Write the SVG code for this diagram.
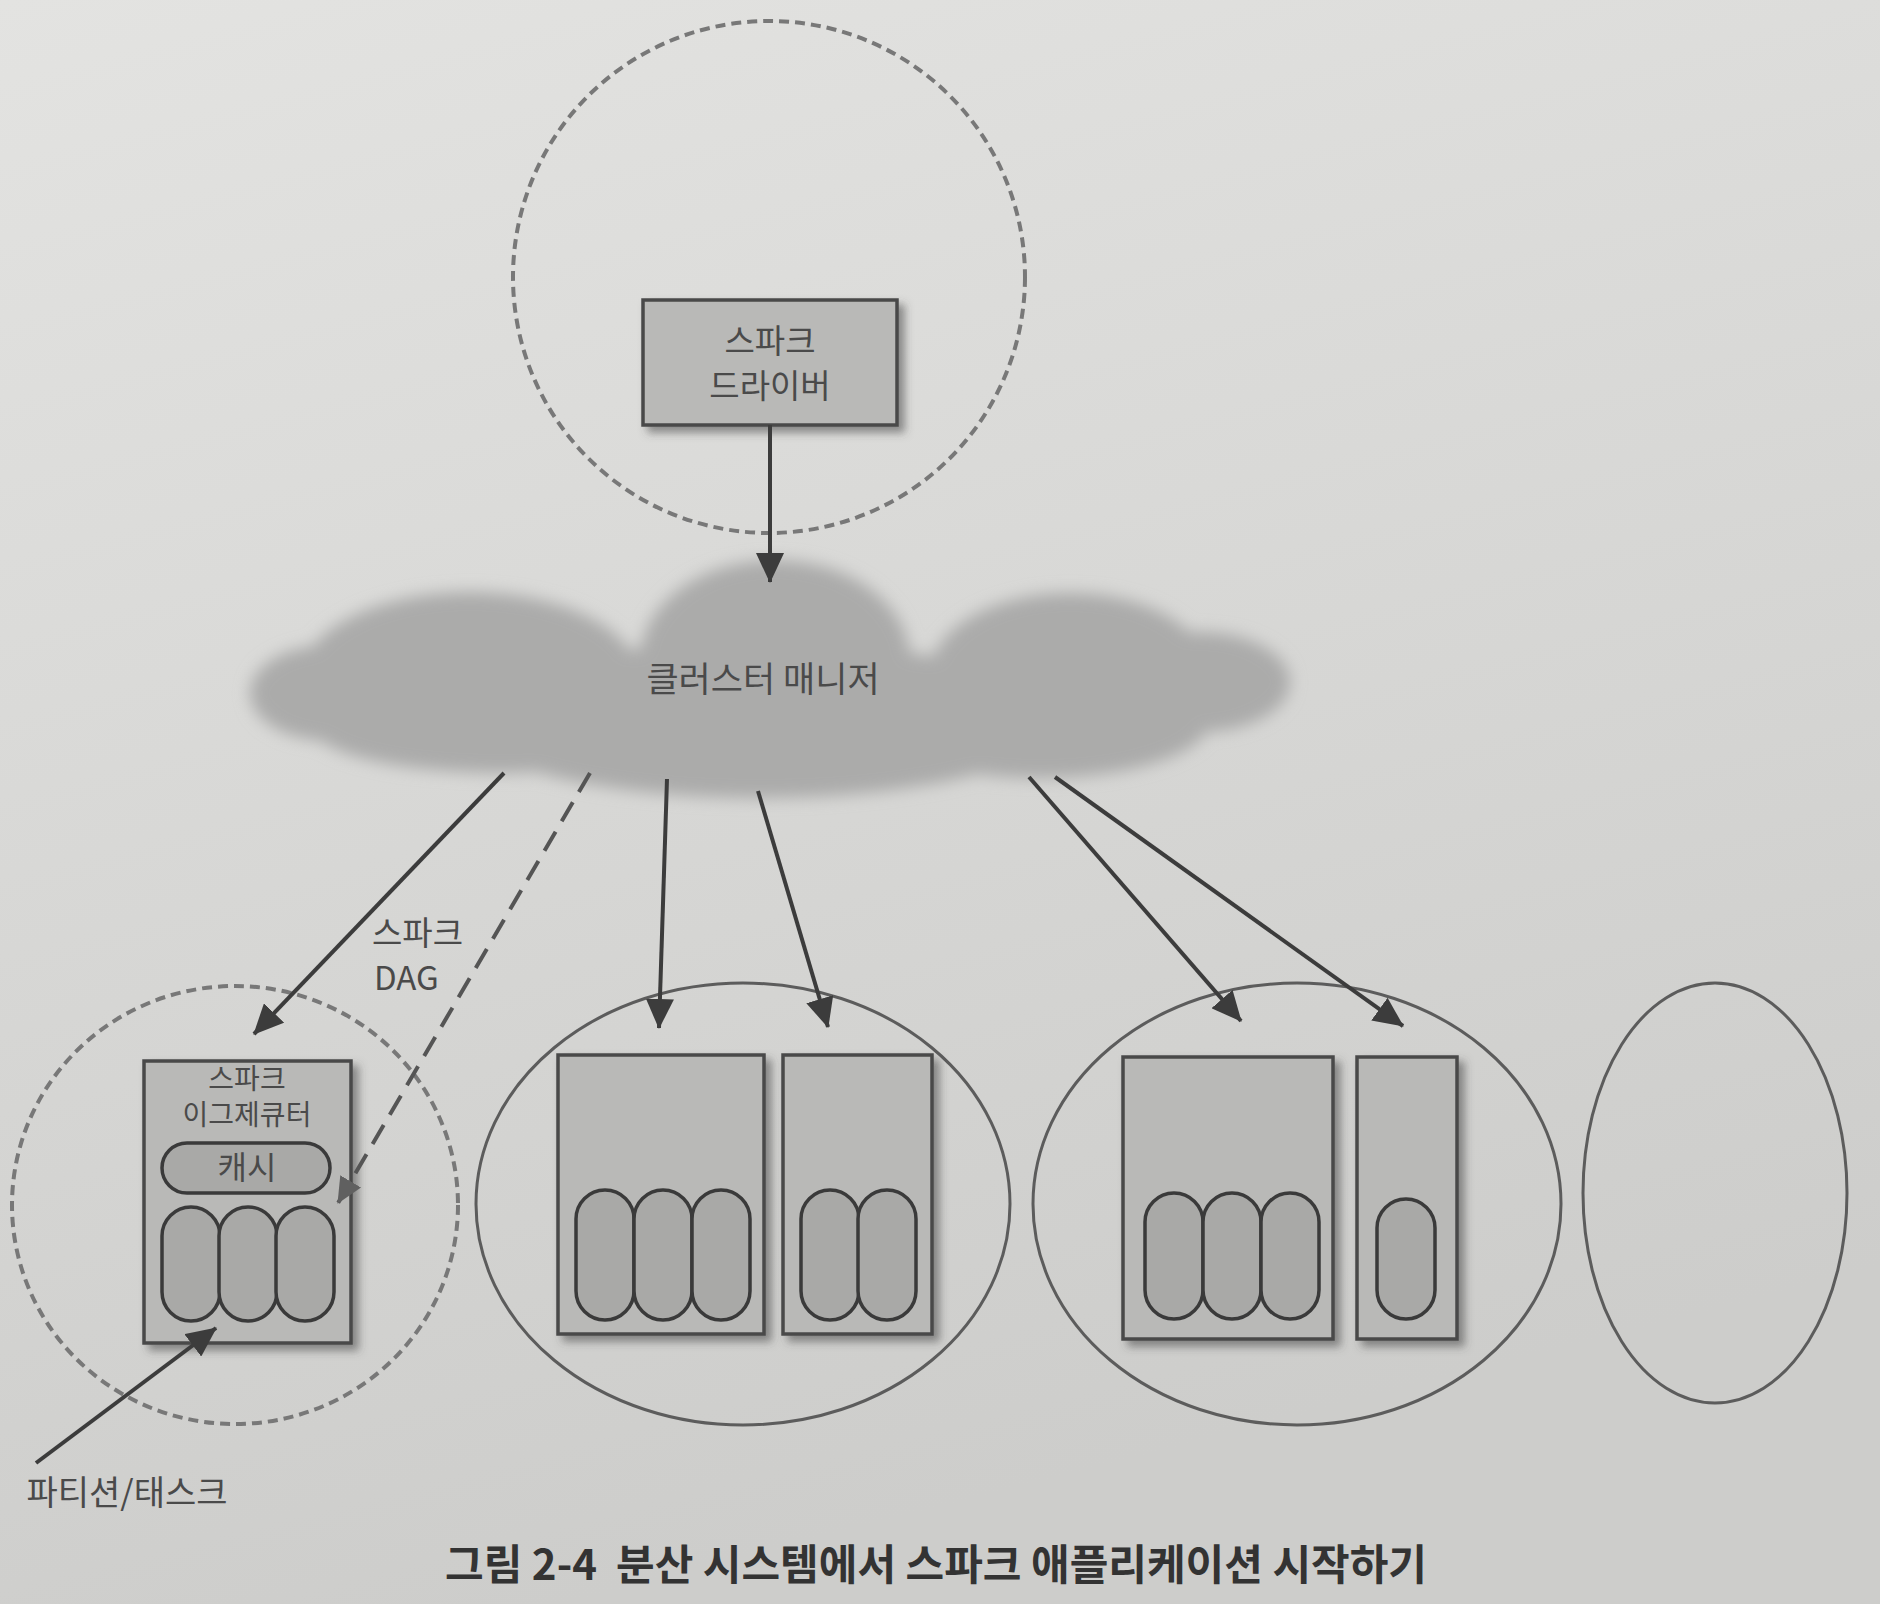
<svg xmlns="http://www.w3.org/2000/svg" width="1880" height="1604" viewBox="0 0 1880 1604">
<defs>
<linearGradient id="bg" x1="0" y1="0" x2="0.3" y2="1">
<stop offset="0" stop-color="#e3e3e1"/>
<stop offset="1" stop-color="#cdcdcb"/>
</linearGradient>
<filter id="blur" x="-10%" y="-20%" width="120%" height="140%"><feGaussianBlur stdDeviation="8"/></filter>
<filter id="shadow" x="-10%" y="-10%" width="130%" height="130%"><feDropShadow dx="6" dy="6" stdDeviation="4" flood-color="#444" flood-opacity="0.55"/></filter>
<marker id="ah" viewBox="0 0 30 28" refX="29" refY="14" markerWidth="30" markerHeight="28" markerUnits="userSpaceOnUse" orient="auto"><path d="M0,0 L30,14 L0,28 z" fill="#3c3c3c"/></marker>
<marker id="ahg" viewBox="0 0 26 24" refX="25" refY="12" markerWidth="26" markerHeight="24" markerUnits="userSpaceOnUse" orient="auto"><path d="M0,0 L26,12 L0,24 z" fill="#606060"/></marker>
<style>
.txt{font-family:"Noto Sans CJK KR","Noto Sans",sans-serif;fill:#4a4a4a;text-anchor:middle}
.lft{text-anchor:start}
.box{fill:#b9b9b7;stroke:#4a4a4a;stroke-width:3.5}
.task{fill:#a9a9a7;stroke:#3a3a3a;stroke-width:3.5}
.dash{fill:none;stroke:#787878;stroke-width:4;stroke-dasharray:10 6}
.node{fill:none;stroke:#5c5c5c;stroke-width:3}
.arr{stroke:#3c3c3c;stroke-width:4;fill:none;marker-end:url(#ah)}
</style>
</defs>
<rect width="1880" height="1604" fill="url(#bg)"/>

<g id="driver-host">
<ellipse class="dash" cx="769" cy="277" rx="256" ry="256"/>
</g>
<g id="driver">
<rect class="box" x="643" y="300" width="254" height="125" filter="url(#shadow)"/>
<text class="txt" x="770" y="353" font-size="33">스파크</text>
<text class="txt" x="770" y="398" font-size="33">드라이버</text>
</g>

<g id="cluster-manager">
<g fill="#ababaa" filter="url(#blur)">
<ellipse cx="775" cy="660" rx="135" ry="100"/>
<ellipse cx="470" cy="680" rx="170" ry="88"/>
<ellipse cx="1070" cy="675" rx="140" ry="82"/>
<ellipse cx="1200" cy="682" rx="90" ry="50"/>
<ellipse cx="330" cy="693" rx="80" ry="48"/>
<ellipse cx="760" cy="720" rx="300" ry="78"/>
<ellipse cx="500" cy="725" rx="190" ry="48"/>
<ellipse cx="1040" cy="720" rx="170" ry="58"/>
</g>
<text class="txt" x="763" y="692" font-size="35">클러스터 매니저</text>
</g>

<g id="executor-host">
<ellipse class="dash" cx="235" cy="1205" rx="223" ry="219"/>
</g>
<g id="executor">
<rect class="box" x="144" y="1061" width="207" height="282" filter="url(#shadow)"/>
<text class="txt" x="247" y="1089" font-size="28">스파크</text>
<text class="txt" x="247" y="1125" font-size="28">이그제큐터</text>
<rect class="task" x="162" y="1143" width="168" height="50" rx="25"/>
<text class="txt" x="247" y="1179" font-size="32">캐시</text>
<rect class="task" x="162" y="1207" width="58" height="114" rx="29"/>
<rect class="task" x="219" y="1207" width="58" height="114" rx="29"/>
<rect class="task" x="276" y="1207" width="58" height="114" rx="29"/>
</g>

<g id="worker2">
<ellipse class="node" cx="743" cy="1204" rx="267" ry="221"/>
<rect class="box" x="558" y="1055" width="206" height="279" filter="url(#shadow)"/>
<rect class="box" x="783" y="1055" width="149" height="279" filter="url(#shadow)"/>
<rect class="task" x="576" y="1190" width="58" height="130" rx="29"/>
<rect class="task" x="634" y="1190" width="58" height="130" rx="29"/>
<rect class="task" x="692" y="1190" width="58" height="130" rx="29"/>
<rect class="task" x="801" y="1190" width="58" height="130" rx="29"/>
<rect class="task" x="858" y="1190" width="58" height="130" rx="29"/>
</g>

<g id="worker3">
<ellipse class="node" cx="1297" cy="1204" rx="264" ry="221"/>
<rect class="box" x="1123" y="1057" width="210" height="282" filter="url(#shadow)"/>
<rect class="box" x="1357" y="1057" width="100" height="282" filter="url(#shadow)"/>
<rect class="task" x="1145" y="1193" width="58" height="126" rx="29"/>
<rect class="task" x="1203" y="1193" width="58" height="126" rx="29"/>
<rect class="task" x="1261" y="1193" width="58" height="126" rx="29"/>
<rect class="task" x="1377" y="1199" width="58" height="120" rx="29"/>
</g>

<g id="worker4">
<ellipse class="node" cx="1715" cy="1193" rx="132" ry="210"/>
</g>

<g id="connectors">
<line class="arr" x1="770" y1="425" x2="770" y2="582"/>
<line class="arr" x1="504" y1="773" x2="254" y2="1034"/>
<line x1="590" y1="773" x2="338" y2="1203" stroke="#555" stroke-width="4" stroke-dasharray="22 12" marker-end="url(#ahg)"/>
<line class="arr" x1="667" y1="779" x2="659" y2="1028"/>
<line class="arr" x1="758" y1="791" x2="828" y2="1027"/>
<line class="arr" x1="1029" y1="777" x2="1241" y2="1021"/>
<line class="arr" x1="1055" y1="777" x2="1403" y2="1026"/>
<line class="arr" x1="36" y1="1463" x2="216" y2="1328"/>
</g>

<g id="labels">
<text class="txt lft" x="372" y="945" font-size="33">스파크</text>
<text class="txt lft" x="374" y="990" font-size="33">DAG</text>
<text class="txt" x="127" y="1505" font-size="34">파티션/태스크</text>
<text x="936" y="1580" font-size="42" font-weight="bold" text-anchor="middle" fill="#333" font-family="'Noto Sans CJK KR','Noto Sans',sans-serif">그림 2-4&#160;&#160;분산 시스템에서 스파크 애플리케이션 시작하기</text>
</g>
</svg>
